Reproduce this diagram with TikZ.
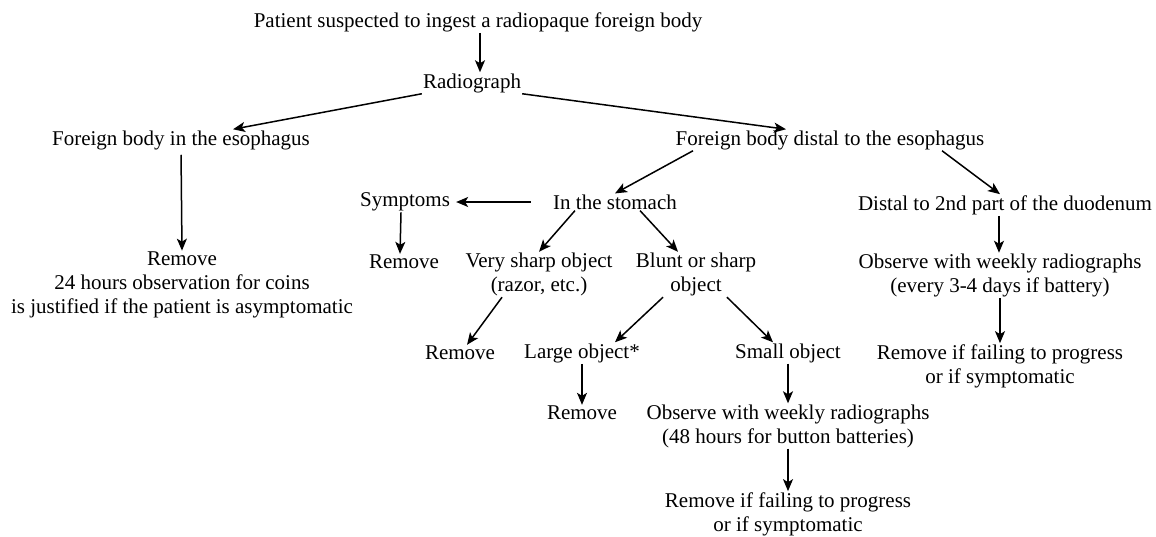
\documentclass[tikz,border=0pt]{standalone}
\usepackage{fontspec}
\setmainfont{Liberation Serif}
\usetikzlibrary{arrows.meta}

\begin{document}
\begin{tikzpicture}[x=1pt, y=-1pt,
    box/.style={inner sep=1pt, align=center, font=\fontsize{21}{24}\selectfont},
    arr/.style={line width=1.5pt, -{Stealth[length=12pt, width=10pt, inset=3pt]}}]
    \useasboundingbox (0,0) rectangle (1156,536);
    \draw
    (478,22)node[box](patient){Patient suspected to ingest a radiopaque foreign body}
    (472,83)node[box](radio){Radiograph}
    (181,140)node[box](eso){Foreign body in the esophagus}
    (830,140)node[box](distal){Foreign body distal to the esophagus}
    (182,285)node[box](remA){Remove\\24 hours observation for coins\\is justified if the patient is asymptomatic}
    (615,202)node[box](stomach){In the stomach}
    (405,202)node[box](symptoms){Symptoms}
    (404,262)node[box](remB){Remove}
    (539,274.5)node[box](sharp){Very sharp object\\(razor, etc.)}
    (696,274.5)node[box](blunt){Blunt or sharp\\object}
    (460,353)node[box](remC){Remove}
    (582,353)node[box](large){Large object*}
    (788,353)node[box](small){Small object}
    (582,413)node[box](remD){Remove}
    (788,426)node[box](obsA){Observe with weekly radiographs\\(48 hours for button batteries)}
    (788,514)node[box](failA){Remove if failing to progress\\or if symptomatic}
    (1005,205)node[box](duod){Distal to 2nd part of the duodenum}
    (1000,275.5)node[box](obsB){Observe with weekly radiographs\\(every 3-4 days if battery)}
    (1000,366)node[box](failB){Remove if failing to progress\\or if symptomatic}
    ;
    \draw[arr]([xshift=8pt]radio.north |- patient.south)--([xshift=8pt]radio.north);
    \draw[arr](radio.south west)--([xshift=52pt]eso.north);
    \draw[arr](radio.south east)--([xshift=-44pt]distal.north);
    \draw[arr,shorten <=4pt](eso.south)--(remA.north);
    \draw[arr](distal.south)++(-137,0)--(stomach.north);
    \draw[arr]([xshift=112pt]distal.south)--([xshift=-5pt]duod.north);
    \draw[arr,shorten <=21pt,shorten >=5pt](stomach.west)--(symptoms.east);
    \draw[arr]([xshift=-4pt]symptoms.south)--([xshift=-4pt]remB.north);
    \draw[arr]([xshift=-40pt]stomach.south)--(sharp.north);
    \draw[arr]([xshift=25pt]stomach.south)--([xshift=-18pt]blunt.north);
    \draw[arr]([xshift=-37pt]sharp.south)--([xshift=7pt]remC.north);
    \draw[arr]([xshift=-33pt]blunt.south)--([xshift=33pt]large.north);
    \draw[arr]([xshift=31pt]blunt.south)--([xshift=-15pt]small.north);
    \draw[arr](large.south)--(remD.north);
    \draw[arr](small.south)--(obsA.north);
    \draw[arr](obsA.south)--(failA.north);
    \draw[arr]([xshift=-6pt]duod.south)--([xshift=-1pt]obsB.north);
    \draw[arr](obsB.south)--(failB.north);
\end{tikzpicture}
\end{document}
